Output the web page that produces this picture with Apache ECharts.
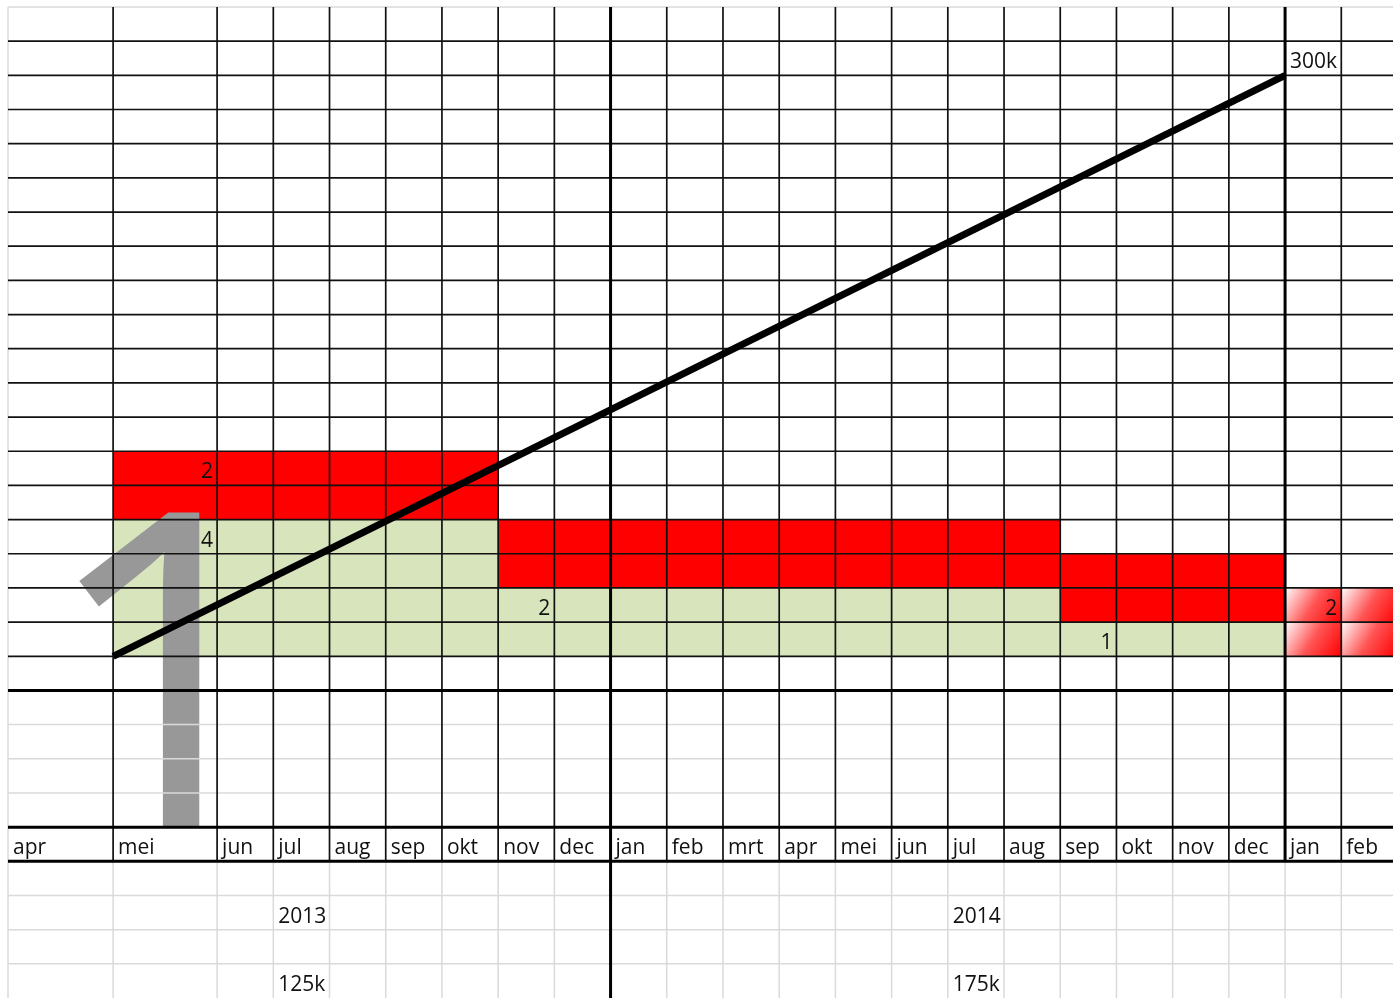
<!DOCTYPE html>
<html>
<head>
<meta charset="utf-8">
<script src="https://cdn.jsdelivr.net/npm/echarts@6/dist/echarts.min.js"></script>
<style>
  html, body { margin: 0; padding: 0; background: #fff; }
  #chart { width: 1393px; height: 999px; }
</style>
</head>
<body>
<div id="chart"></div>
<script>
// months along the sheet (apr 2013 .. feb 2015)
const months = ['apr', 'mei', 'jun', 'jul', 'aug', 'sep', 'okt', 'nov', 'dec',
  'jan', 'feb', 'mrt', 'apr', 'mei', 'jun', 'jul', 'aug', 'sep', 'okt', 'nov', 'dec',
  'jan', 'feb']

// staffing blocks: first / last month index, rows of green and red
const blockFrom = [1, 7, 17]
const blockTo = [6, 16, 20]
const greenRows = [4, 2, 1]
const redRows = [2, 2, 2]
const greenLabels = ['4', '2', '1']
const redLabels = ['2', '', '']

// fading block after the end of the plan
const fadeFrom = 21
const fadeTo = 22
const fadeRows = 2
const fadeLabel = '2'

// budget per year
const yearLabels = ['2013', '2014']
const yearMonth = [3, 15]
const yearBudget = ['125k', '175k']

// cumulative budget line (k), from start of mei 2013 to end of dec 2014
const trendMonthFrom = 1
const trendMonthTo = 20
const trendValues = [0, 300]
const totalLabel = '300k'
const totalMonth = 21

// ---- layout ----
const colUnits = months.map((m, i) => (i === 0 ? 1.87 : i === 1 ? 1.85 : 1))
const edges = [0]
colUnits.forEach(w => edges.push(edges[edges.length - 1] + w))
const X_MAX = 24.64
const Y_MIN = -10
const Y_MAX = 19
const K_PER_ROW = 300 / 17

// filled cells
const fillItems = []
blockFrom.forEach((from, i) => {
  const x0 = edges[from]
  const x1 = edges[blockTo[i] + 1]
  fillItems.push({ value: [x0, x1, 0, greenRows[i]], kind: 'green' })
  fillItems.push({ value: [x0, x1, greenRows[i], greenRows[i] + redRows[i]], kind: 'red' })
})
for (let c = fadeFrom; c <= fadeTo; c++) {
  for (let r = 0; r < fadeRows; r++) {
    fillItems.push({ value: [edges[c], edges[c + 1], r, r + 1], kind: 'fade' })
  }
}

const fillStyle = {
  green: '#d8e4bc',
  red: '#ff0000',
  fade: {
    type: 'linear', x: 0, y: 0, x2: 1, y2: 1,
    colorStops: [
      { offset: 0, color: '#ffffff' },
      { offset: 0.5, color: '#ff5555' },
      { offset: 1, color: '#ff0000' }
    ]
  }
}

// grid lines of the sheet
const lineItems = []
for (let L = Y_MIN + 1; L <= Y_MAX; L++) {
  let kind = 'grey'
  if (L >= 0 && L <= 18) kind = 'black'
  if (L === -1 || L === -5 || L === -6) kind = 'thick'
  lineItems.push({ value: [0, L, X_MAX, L], kind })
}
edges.forEach((x, k) => {
  if (x > X_MAX) return
  if (k === 0) {
    lineItems.push({ value: [x, Y_MIN, x, Y_MAX], kind: 'grey' })
    return
  }
  const yearEdge = k === 9 || k === 21
  lineItems.push({ value: [x, -6, x, Y_MAX], kind: yearEdge ? 'thick' : 'black' })
  lineItems.push({ value: [x, Y_MIN, x, -6], kind: k === 9 ? 'thick' : 'grey' })
})
const order = { grey: 0, black: 1, thick: 2 }
lineItems.sort((a, b) => order[a.kind] - order[b.kind])
const lineStyle = {
  grey: { stroke: '#dadada', lineWidth: 1.5 },
  black: { stroke: '#111111', lineWidth: 1.7 },
  thick: { stroke: '#000000', lineWidth: 3 }
}

// texts in cells
const textItems = []
months.forEach((m, i) => textItems.push({ value: [edges[i], -5.5], text: m, align: 'left' }))
blockFrom.forEach((from, i) => {
  textItems.push({ value: [edges[from + 1], greenRows[i] - 0.5], text: greenLabels[i], align: 'right' })
  textItems.push({ value: [edges[from + 1], greenRows[i] + redRows[i] - 0.5], text: redLabels[i], align: 'right' })
})
textItems.push({ value: [edges[fadeFrom + 1], fadeRows - 0.5], text: fadeLabel, align: 'right' })
yearLabels.forEach((y, i) => {
  textItems.push({ value: [edges[yearMonth[i]], -7.5], text: y, align: 'left' })
  textItems.push({ value: [edges[yearMonth[i]], -9.5], text: yearBudget[i], align: 'left' })
})
textItems.push({ value: [edges[totalMonth], 17.5], text: totalLabel, align: 'left' })

const chart = echarts.init(document.getElementById('chart'))

const option = {
  animation: false,
  backgroundColor: '#ffffff',
  grid: { left: 8, top: 7, width: 1385, height: 991 },
  xAxis: { type: 'value', min: 0, max: X_MAX, show: false },
  yAxis: [
    { type: 'value', min: Y_MIN, max: Y_MAX, show: false },
    { type: 'value', min: Y_MIN * K_PER_ROW, max: Y_MAX * K_PER_ROW, show: false }
  ],
  series: [
    {
      // coloured cells
      type: 'custom',
      z: 1,
      clip: false,
      data: fillItems,
      renderItem: (params, api) => {
        const item = fillItems[params.dataIndex]
        const p0 = api.coord([api.value(0), api.value(3)])
        const p1 = api.coord([api.value(1), api.value(2)])
        return {
          type: 'rect',
          shape: { x: p0[0], y: p0[1], width: p1[0] - p0[0], height: p1[1] - p0[1] },
          style: { fill: fillStyle[item.kind] }
        }
      }
    },
    {
      // the big grey "1" pasted on the sheet
      type: 'custom',
      z: 2,
      clip: false,
      data: [[0.53, -1.57]],
      renderItem: (params, api) => {
        const p = api.coord([api.value(0), api.value(1)])
        return {
          type: 'text',
          x: p[0],
          y: p[1],
          style: {
            text: '1',
            fontSize: 460,
            fontFamily: '"Open Sans"',
            fill: '#989898',
            align: 'left',
            verticalAlign: 'middle'
          }
        }
      }
    },
    {
      // white label rows at the bottom
      type: 'custom',
      z: 3,
      clip: false,
      data: [[0, X_MAX, Y_MIN, -5]],
      renderItem: (params, api) => {
        const p0 = api.coord([api.value(0), api.value(3)])
        const p1 = api.coord([api.value(1), api.value(2)])
        return {
          type: 'rect',
          shape: { x: p0[0], y: p0[1], width: p1[0] - p0[0], height: p1[1] - p0[1] + 4 },
          style: { fill: '#ffffff' }
        }
      }
    },
    {
      // cell borders
      type: 'custom',
      z: 4,
      clip: false,
      data: lineItems,
      renderItem: (params, api) => {
        const item = lineItems[params.dataIndex]
        const a = api.coord([api.value(0), api.value(1)])
        const b = api.coord([api.value(2), api.value(3)])
        return {
          type: 'line',
          shape: { x1: a[0], y1: a[1], x2: b[0], y2: b[1] },
          style: lineStyle[item.kind]
        }
      }
    },
    {
      // cumulative budget
      type: 'line',
      z: 5,
      yAxisIndex: 1,
      symbol: 'none',
      data: [[edges[trendMonthFrom], trendValues[0]], [edges[trendMonthTo + 1], trendValues[1]]],
      lineStyle: { color: '#000000', width: 7 }
    },
    {
      // cell texts
      type: 'custom',
      z: 6,
      clip: false,
      data: textItems,
      renderItem: (params, api) => {
        const item = textItems[params.dataIndex]
        const p = api.coord([api.value(0), api.value(1)])
        return {
          type: 'text',
          x: p[0] + (item.align === 'left' ? 5 : -4),
          y: p[1] + 4,
          style: {
            text: item.text,
            fontSize: 21,
            fontFamily: '"Open Sans"',
            fill: '#111111',
            align: item.align,
            verticalAlign: 'middle'
          }
        }
      }
    }
  ]
}

chart.setOption(option)
window.addEventListener('resize', () => {
  chart.resize()
})
</script>
</body>
</html>
